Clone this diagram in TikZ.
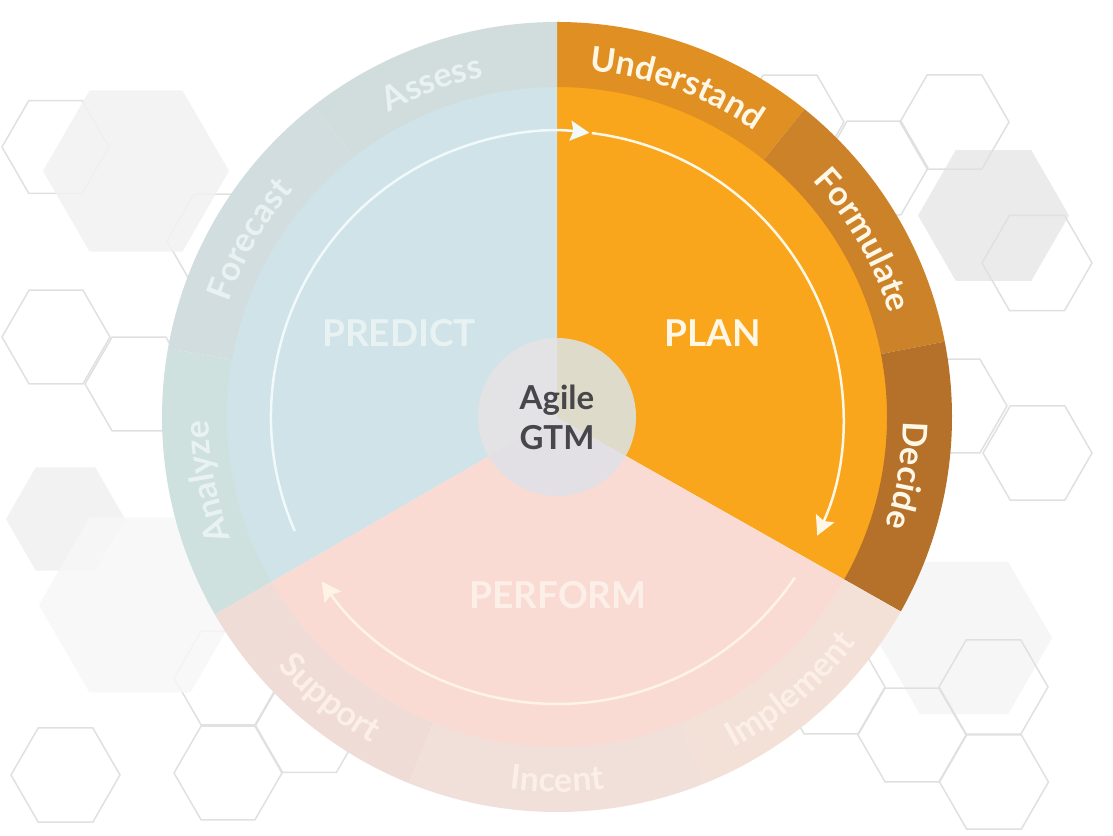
\documentclass[tikz,border=0pt]{standalone}
\usepackage{fontspec}
\setmainfont{Lato}
\usetikzlibrary{arrows.meta,decorations.text}
\newfontfamily\lbl{Lato}[Scale=1]
\definecolor{cPlan}{HTML}{F9A61C}
\definecolor{cUnder}{HTML}{E08F23}
\definecolor{cForm}{HTML}{CC8228}
\definecolor{cDec}{HTML}{B5702A}
\definecolor{cPred}{HTML}{CFE3E8}
\definecolor{cAna}{HTML}{CFE1DF}
\definecolor{cFor}{HTML}{D2DDDF}
\definecolor{cAss}{HTML}{D1DDDC}
\definecolor{cPerf}{HTML}{FADBD3}
\definecolor{cSup}{HTML}{EFDCD7}
\definecolor{cInc}{HTML}{F1DFDA}
\definecolor{cImp}{HTML}{F3E0D7}
\definecolor{cHubL}{HTML}{E3E3E6}
\definecolor{cHubP}{HTML}{E2E0E4}
\definecolor{cHubO}{HTML}{DFDBCB}
\definecolor{cHubT}{HTML}{47464B}
\definecolor{cHexL}{HTML}{DFE1E1}
\definecolor{cOrgT}{HTML}{FFF7E6}
\definecolor{cBluT}{HTML}{E9F2F3}
\definecolor{cPnkT}{HTML}{FBEFE8}
\definecolor{cArcB}{HTML}{F1F9FA}
\definecolor{cArcP}{HTML}{FDF3E6}
\tikzset{
  hexline/.style={draw=cHexL,line width=1.5pt,line join=miter,fill=none},
  arcline/.style={line width=2.5pt,-{Stealth[length=19pt,width=20pt,inset=3pt]}},
  biglabel/.style={font=\fontsize{37}{37}\selectfont\bfseries,inner sep=0pt},
  hublabel/.style={font=\fontsize{33}{33}\selectfont\bfseries,inner sep=0pt,text=cHubT},
}
\newcommand{\hexa}[4][hexline]{%
  \path[#1] (#2+#4,#3) -- (#2+0.5*#4,#3+0.866*#4) -- (#2-0.5*#4,#3+0.866*#4)
     -- (#2-#4,#3) -- (#2-0.5*#4,#3-0.866*#4) -- (#2+0.5*#4,#3-0.866*#4) -- cycle;}
\newcommand{\sect}[5]{%
  \fill[#1] (#2:#4) arc[start angle=#2,end angle=#3,radius=#4] -- (#3:#5)
     arc[start angle=#3,end angle=#2,radius=#5] -- cycle;}
\newcommand{\ringtext}[6]{% text, colour, centre, radius, half span, direction(+1 ccw,-1 cw)
  \path[decorate,decoration={text along path,text align=center,
     text={|\color{#2}\fontsize{34}{34}\selectfont\bfseries|#1}}]
     (#3-#6*#5:#4) arc[start angle=#3-#6*#5,end angle=#3+#6*#5,radius=#4];}
\begin{document}
\begin{tikzpicture}[x=1pt,y=1pt]
\useasboundingbox (0,0) rectangle (1113,835);
\fill[white] (0,0) rectangle (1113,835);
% background hexagons, in image coordinates
\begin{scope}[yshift=835pt,y=-1pt]
  \hexa[fill=black!5]{65.5}{519}{59.5}
  \hexa[fill=black!8]{993.5}{215.5}{75.5}
  \hexa[fill=black!3.5]{964}{638}{88}
  \hexa{55.5}{147}{53.5}
  \hexa{56}{337}{54}
  \hexa{139}{384}{54}
  \hexa{221}{241}{54}
  \hexa{65.5}{775}{54.5}
  \hexa{228}{773}{54}
  \hexa{228}{678}{54}
  \hexa{309.5}{725.5}{54}
  \hexa{790}{122}{54}
  \hexa{874}{168}{54}
  \hexa{954.5}{122}{54.5}
  \hexa{1037}{263}{55}
  \hexa{953}{406}{54}
  \hexa{1037.5}{453}{54.5}
  \hexa{993.5}{687}{54.5}
  \hexa{831}{687}{54}
  \hexa{912}{735}{54}
  \hexa{994}{782}{54.5}
  \hexa[fill=black!5,fill opacity=0.85]{136}{171}{93}
  \hexa[fill=black!3,fill opacity=0.85]{140}{605}{101}
\end{scope}
% the wheel
\begin{scope}[shift={(557,418)}]
  \sect{cPlan}{90}{-29.5}{0}{331}
  \sect{cPred}{210}{90}{0}{331}
  \sect{cPerf}{330.5}{210}{0}{331}
  \sect{cUnder}{90}{51.2}{330}{395}
  \sect{cForm}{51.2}{11}{330}{395}
  \sect{cDec}{11}{-29.5}{330}{395}
  \sect{cAna}{210}{170}{330}{395}
  \sect{cFor}{170}{128}{330}{395}
  \sect{cAss}{128}{90}{330}{395}
  \sect{cSup}{210}{248}{330}{395}
  \sect{cInc}{248}{292}{330}{395}
  \sect{cImp}{292}{330.5}{330}{395}
  % hub
  \sect{cHubO}{90}{-29.5}{0}{79}
  \sect{cHubL}{210}{90}{0}{79}
  \sect{cHubP}{330.5}{210}{0}{79}
  \node[hublabel] (agile) at (0,17) {Agile};
  \node[hublabel] (gtm) at (0,-21) {GTM};
  % cycle arcs
  \draw[arcline,draw=cArcP,color=cOrgT] (83:286) arc[start angle=83,end angle=-24.5,radius=286];
  \draw[arcline,draw=cArcB,color=cArcB] (203.5:286) arc[start angle=203.5,end angle=83.5,radius=286];
  \draw[arcline,draw=cArcP,color=cArcP] (-34:287) arc[start angle=-34,end angle=-145,radius=287];
  % sector titles
  \node[biglabel,text=cOrgT] (plan) at (156,84) {PLAN};
  \node[biglabel,text=cBluT] (predict) at (-158,84) {PREDICT};
  \node[biglabel,text=cPnkT] (perform) at (1,-178) {PERFORM};
  % ring labels
  \ringtext{Understand}{cOrgT}{70}{348}{30}{-1}
  \ringtext{Formulate}{cOrgT}{30}{348}{30}{-1}
  \ringtext{Decide}{cOrgT}{-9.5}{346}{25}{-1}
  \ringtext{Assess}{cBluT}{110.5}{348}{25}{-1}
  \ringtext{Forecast}{cBluT}{150}{348}{30}{-1}
  \ringtext{Analyze}{cBluT}{190.5}{348}{30}{-1}
  \ringtext{Support}{cPnkT}{231}{375}{25}{1}
  \ringtext{Incent}{cPnkT}{270}{375}{25}{1}
  \ringtext{Implement}{cPnkT}{310.5}{375}{30}{1}
\end{scope}
\end{tikzpicture}
\end{document}
